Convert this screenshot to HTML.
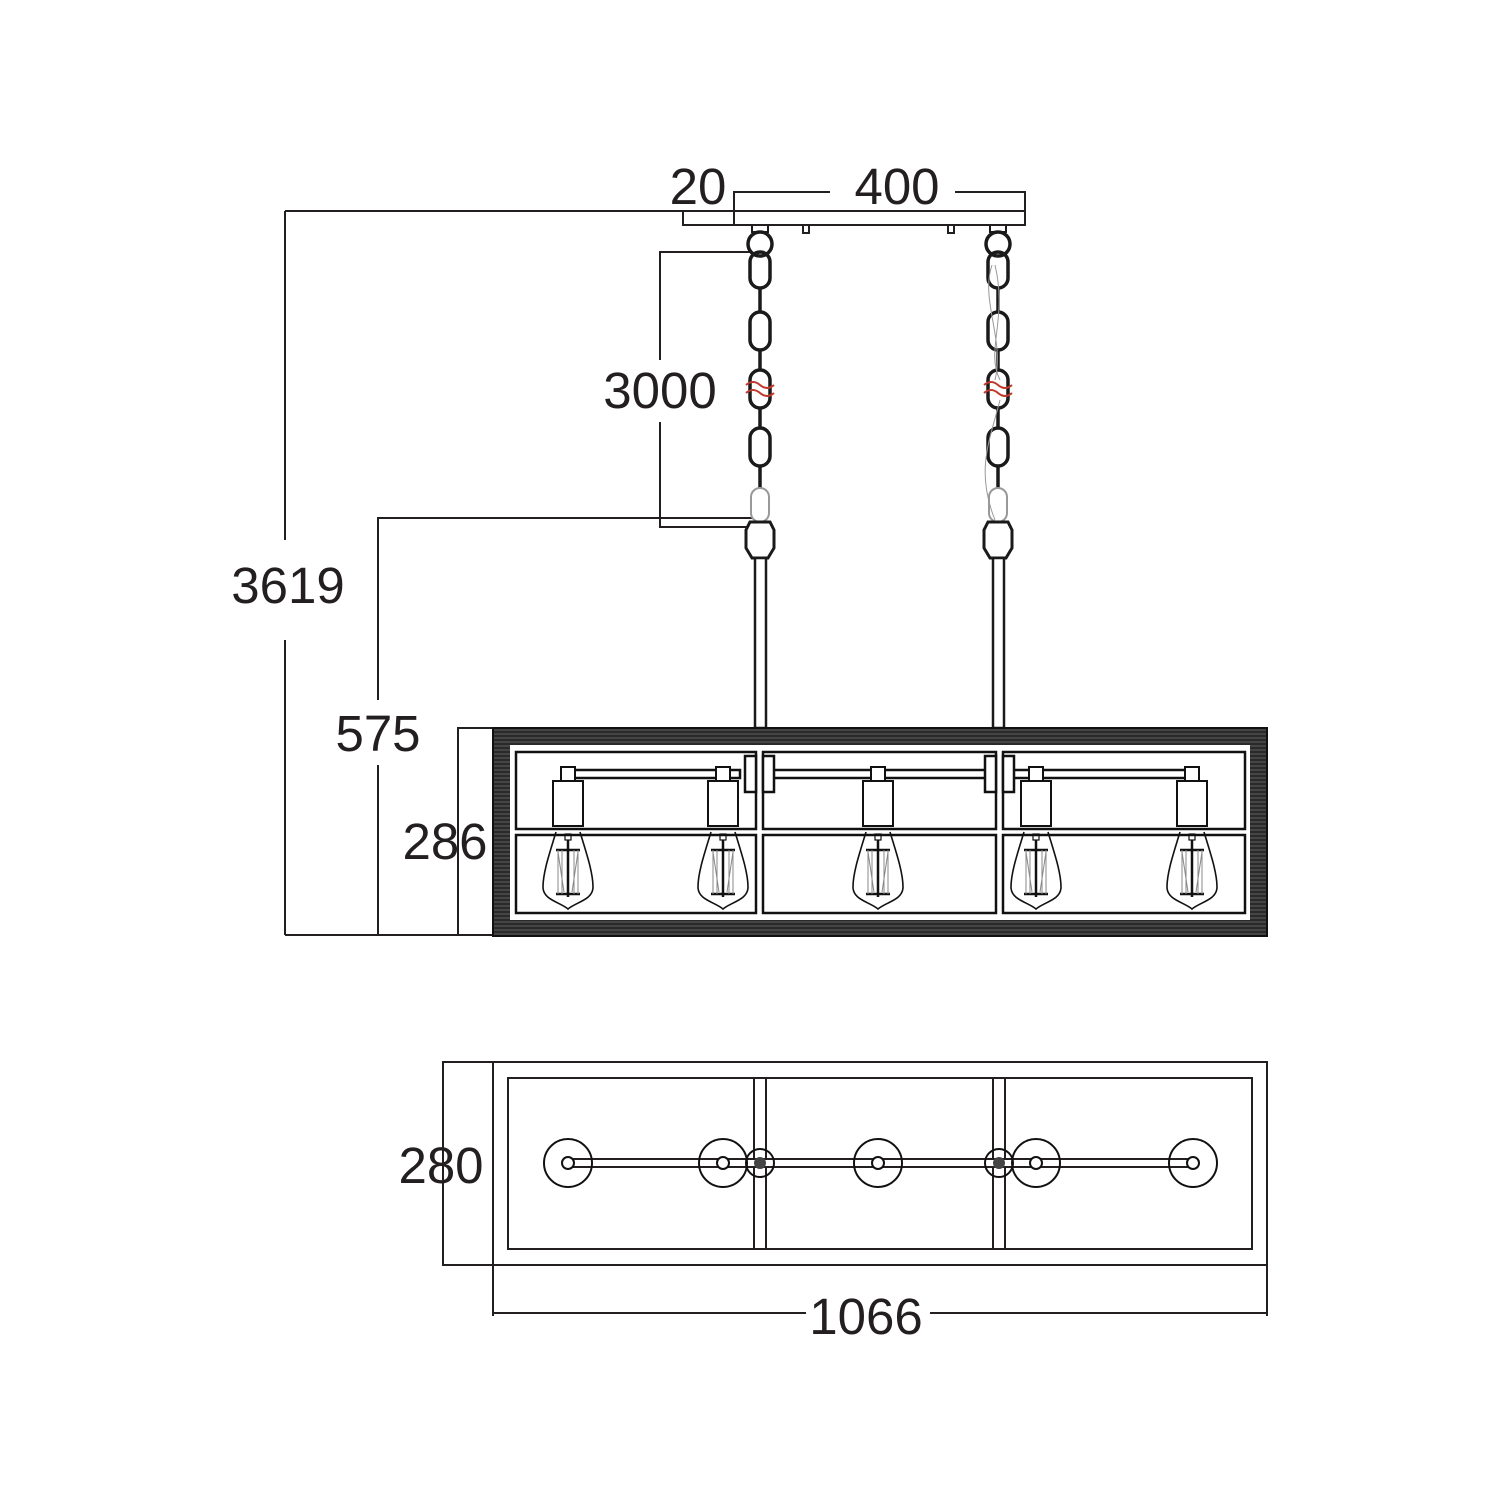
<!DOCTYPE html>
<html><head><meta charset="utf-8"><style>
html,body{margin:0;padding:0;background:#fff;width:1500px;height:1500px;overflow:hidden}
svg{display:block}
text{font-family:"Liberation Sans",sans-serif;font-size:51px;fill:#231f20}
</style></head><body>
<svg width="1500" height="1500" viewBox="0 0 1500 1500" xmlns="http://www.w3.org/2000/svg">
<defs>
<pattern id="hatch" width="8" height="4" patternUnits="userSpaceOnUse">
<rect width="8" height="4" fill="#2a2a2a"/><line x1="0" y1="2" x2="8" y2="2" stroke="#777" stroke-width="0.7"/>
</pattern>
<g id="bulb" fill="none" stroke="#111" stroke-width="2">
<rect x="-7" y="-63" width="14" height="14" fill="#fff"/>
<rect x="-15" y="-49" width="30" height="45" fill="#fff"/>
<path d="M-12,2 C-18,22 -25,42 -25,57 C-25,70 -8,72 0,79 C8,72 25,70 25,57 C25,42 18,22 12,2" stroke-width="1.6"/>
<rect x="-3" y="4" width="6" height="6" stroke-width="1.2"/>
<line x1="0" y1="10" x2="0" y2="67" stroke-width="2.5"/>
<line x1="-12" y1="20" x2="12" y2="20" stroke-width="2.5"/>
<line x1="-12" y1="64" x2="12" y2="64" stroke-width="2.5"/>
<path d="M-10,20 L-10,64 M-6,20 L-6,64 M6,20 L6,64 M10,20 L10,64 M-10,22 L-4,62 M10,22 L4,62" stroke="#888" stroke-width="1"/>
</g>
<g id="chain" fill="none" stroke="#1a1a1a" stroke-width="2">
<path d="M-8,226 L-8,232 L8,232 L8,226" fill="#fff"/>
<circle cx="0" cy="244" r="12" stroke-width="3.5"/>
<rect x="-10" y="252" width="20" height="36" rx="10" stroke-width="3.5"/>
<line x1="0" y1="288" x2="0" y2="312" stroke-width="3.5"/>
<rect x="-10" y="312" width="20" height="38" rx="10" stroke-width="3.5"/>
<line x1="0" y1="350" x2="0" y2="370" stroke-width="3.5"/>
<rect x="-10" y="370" width="20" height="38" rx="10" stroke-width="3.5"/>
<line x1="0" y1="408" x2="0" y2="428" stroke-width="3.5"/>
<rect x="-10" y="428" width="20" height="38" rx="10" stroke-width="3.5"/>
<line x1="0" y1="466" x2="0" y2="488" stroke-width="3.5"/>
<rect x="-9" y="488" width="18" height="34" rx="9" stroke="#999"/>
<path d="M-10,522 L10,522 L14,530 L14,548 L8,558 L-8,558 L-14,548 L-14,530 Z" stroke-width="3" fill="#fff"/>
<rect x="-5" y="558" width="11" height="170" fill="#fff" stroke-width="2.5"/>
<path d="M-14,385 q7,-6 14,0 t14,0 M-14,393 q7,-6 14,0 t14,0" stroke="#c0392b" stroke-width="2"/>
</g>
<g id="disc" fill="none" stroke="#111" stroke-width="2">
<circle r="24"/><circle r="6" fill="#fff"/>
</g>
</defs>

<g fill="none" stroke="#231f20" stroke-width="2">
<polyline points="734,211 734,192 830,192"/>
<polyline points="955,192 1025,192 1025,211"/>
<rect x="734" y="211" width="291" height="14" fill="#fff"/>
<polyline points="683,211 683,225 734,225"/>
<line x1="285" y1="211" x2="734" y2="211"/>
<rect x="803" y="225" width="6" height="8"/>
<rect x="948" y="225" width="6" height="8"/>
<polyline points="752,252 660,252 660,360"/>
<polyline points="660,422 660,527 752,527"/>
<polyline points="752,518 378,518 378,700"/>
<line x1="378" y1="765" x2="378" y2="935"/>
<line x1="285" y1="211" x2="285" y2="540"/>
<line x1="285" y1="640" x2="285" y2="935"/>
<line x1="285" y1="935" x2="493" y2="935"/>
<polyline points="493,728 458,728 458,935"/>
</g>

<use href="#chain" x="760"/>
<use href="#chain" x="998"/>
<path d="M992,265 C980,300 1005,340 995,380 M1000,400 C990,440 975,470 995,520 M995,265 C1008,320 985,350 1000,380" fill="none" stroke="#999" stroke-width="1"/>

<rect x="493" y="728" width="774" height="208" fill="url(#hatch)" stroke="#111" stroke-width="2"/>
<rect x="510" y="745" width="740" height="175" fill="#fff"/>
<g fill="none" stroke="#111" stroke-width="2.5">
<rect x="516" y="752" width="240" height="77"/>
<rect x="516" y="835" width="240" height="78"/>
<rect x="763" y="752" width="233" height="77"/>
<rect x="763" y="835" width="233" height="78"/>
<rect x="1003" y="752" width="242" height="77"/>
<rect x="1003" y="835" width="242" height="78"/>
<rect x="568" y="770" width="172" height="8" fill="#fff"/>
<rect x="766" y="770" width="224" height="8" fill="#fff"/>
<rect x="1010" y="770" width="183" height="8" fill="#fff"/>
<rect x="745" y="756" width="11" height="36" fill="#fff"/>
<rect x="763" y="756" width="11" height="36" fill="#fff"/>
<rect x="985" y="756" width="11" height="36" fill="#fff"/>
<rect x="1003" y="756" width="11" height="36" fill="#fff"/>
</g>
<use href="#bulb" x="568" y="830"/>
<use href="#bulb" x="723" y="830"/>
<use href="#bulb" x="878" y="830"/>
<use href="#bulb" x="1036" y="830"/>
<use href="#bulb" x="1192" y="830"/>

<g fill="none" stroke="#231f20" stroke-width="2">
<polyline points="1267,1062 443,1062 443,1265 1267,1265"/>
<rect x="493" y="1062" width="774" height="203"/>
<line x1="493" y1="1265" x2="493" y2="1316"/>
<line x1="1267" y1="1265" x2="1267" y2="1316"/>
<line x1="493" y1="1313" x2="806" y2="1313"/>
<line x1="930" y1="1313" x2="1267" y2="1313"/>
<rect x="508" y="1078" width="744" height="171"/>
<rect x="754" y="1078" width="12" height="171" fill="#fff"/>
<rect x="993" y="1078" width="12" height="171" fill="#fff"/>
<rect x="568" y="1159" width="625" height="8" fill="#fff"/>
</g>
<use href="#disc" x="568" y="1163"/>
<use href="#disc" x="723" y="1163"/>
<use href="#disc" x="878" y="1163"/>
<use href="#disc" x="1036" y="1163"/>
<use href="#disc" x="1193" y="1163"/>
<circle cx="760" cy="1163" r="14" fill="none" stroke="#111" stroke-width="2"/>
<circle cx="999" cy="1163" r="14" fill="none" stroke="#111" stroke-width="2"/>
<circle cx="760" cy="1163" r="6" fill="#444"/>
<circle cx="999" cy="1163" r="6" fill="#444"/>

<text x="698" y="204" text-anchor="middle">20</text>
<text x="897" y="204" text-anchor="middle">400</text>
<text x="660" y="408" text-anchor="middle">3000</text>
<text x="288" y="603" text-anchor="middle">3619</text>
<text x="378" y="751" text-anchor="middle">575</text>
<text x="445" y="859" text-anchor="middle">286</text>
<text x="441" y="1183" text-anchor="middle">280</text>
<text x="866" y="1334" text-anchor="middle">1066</text>
</svg>
</body></html>
